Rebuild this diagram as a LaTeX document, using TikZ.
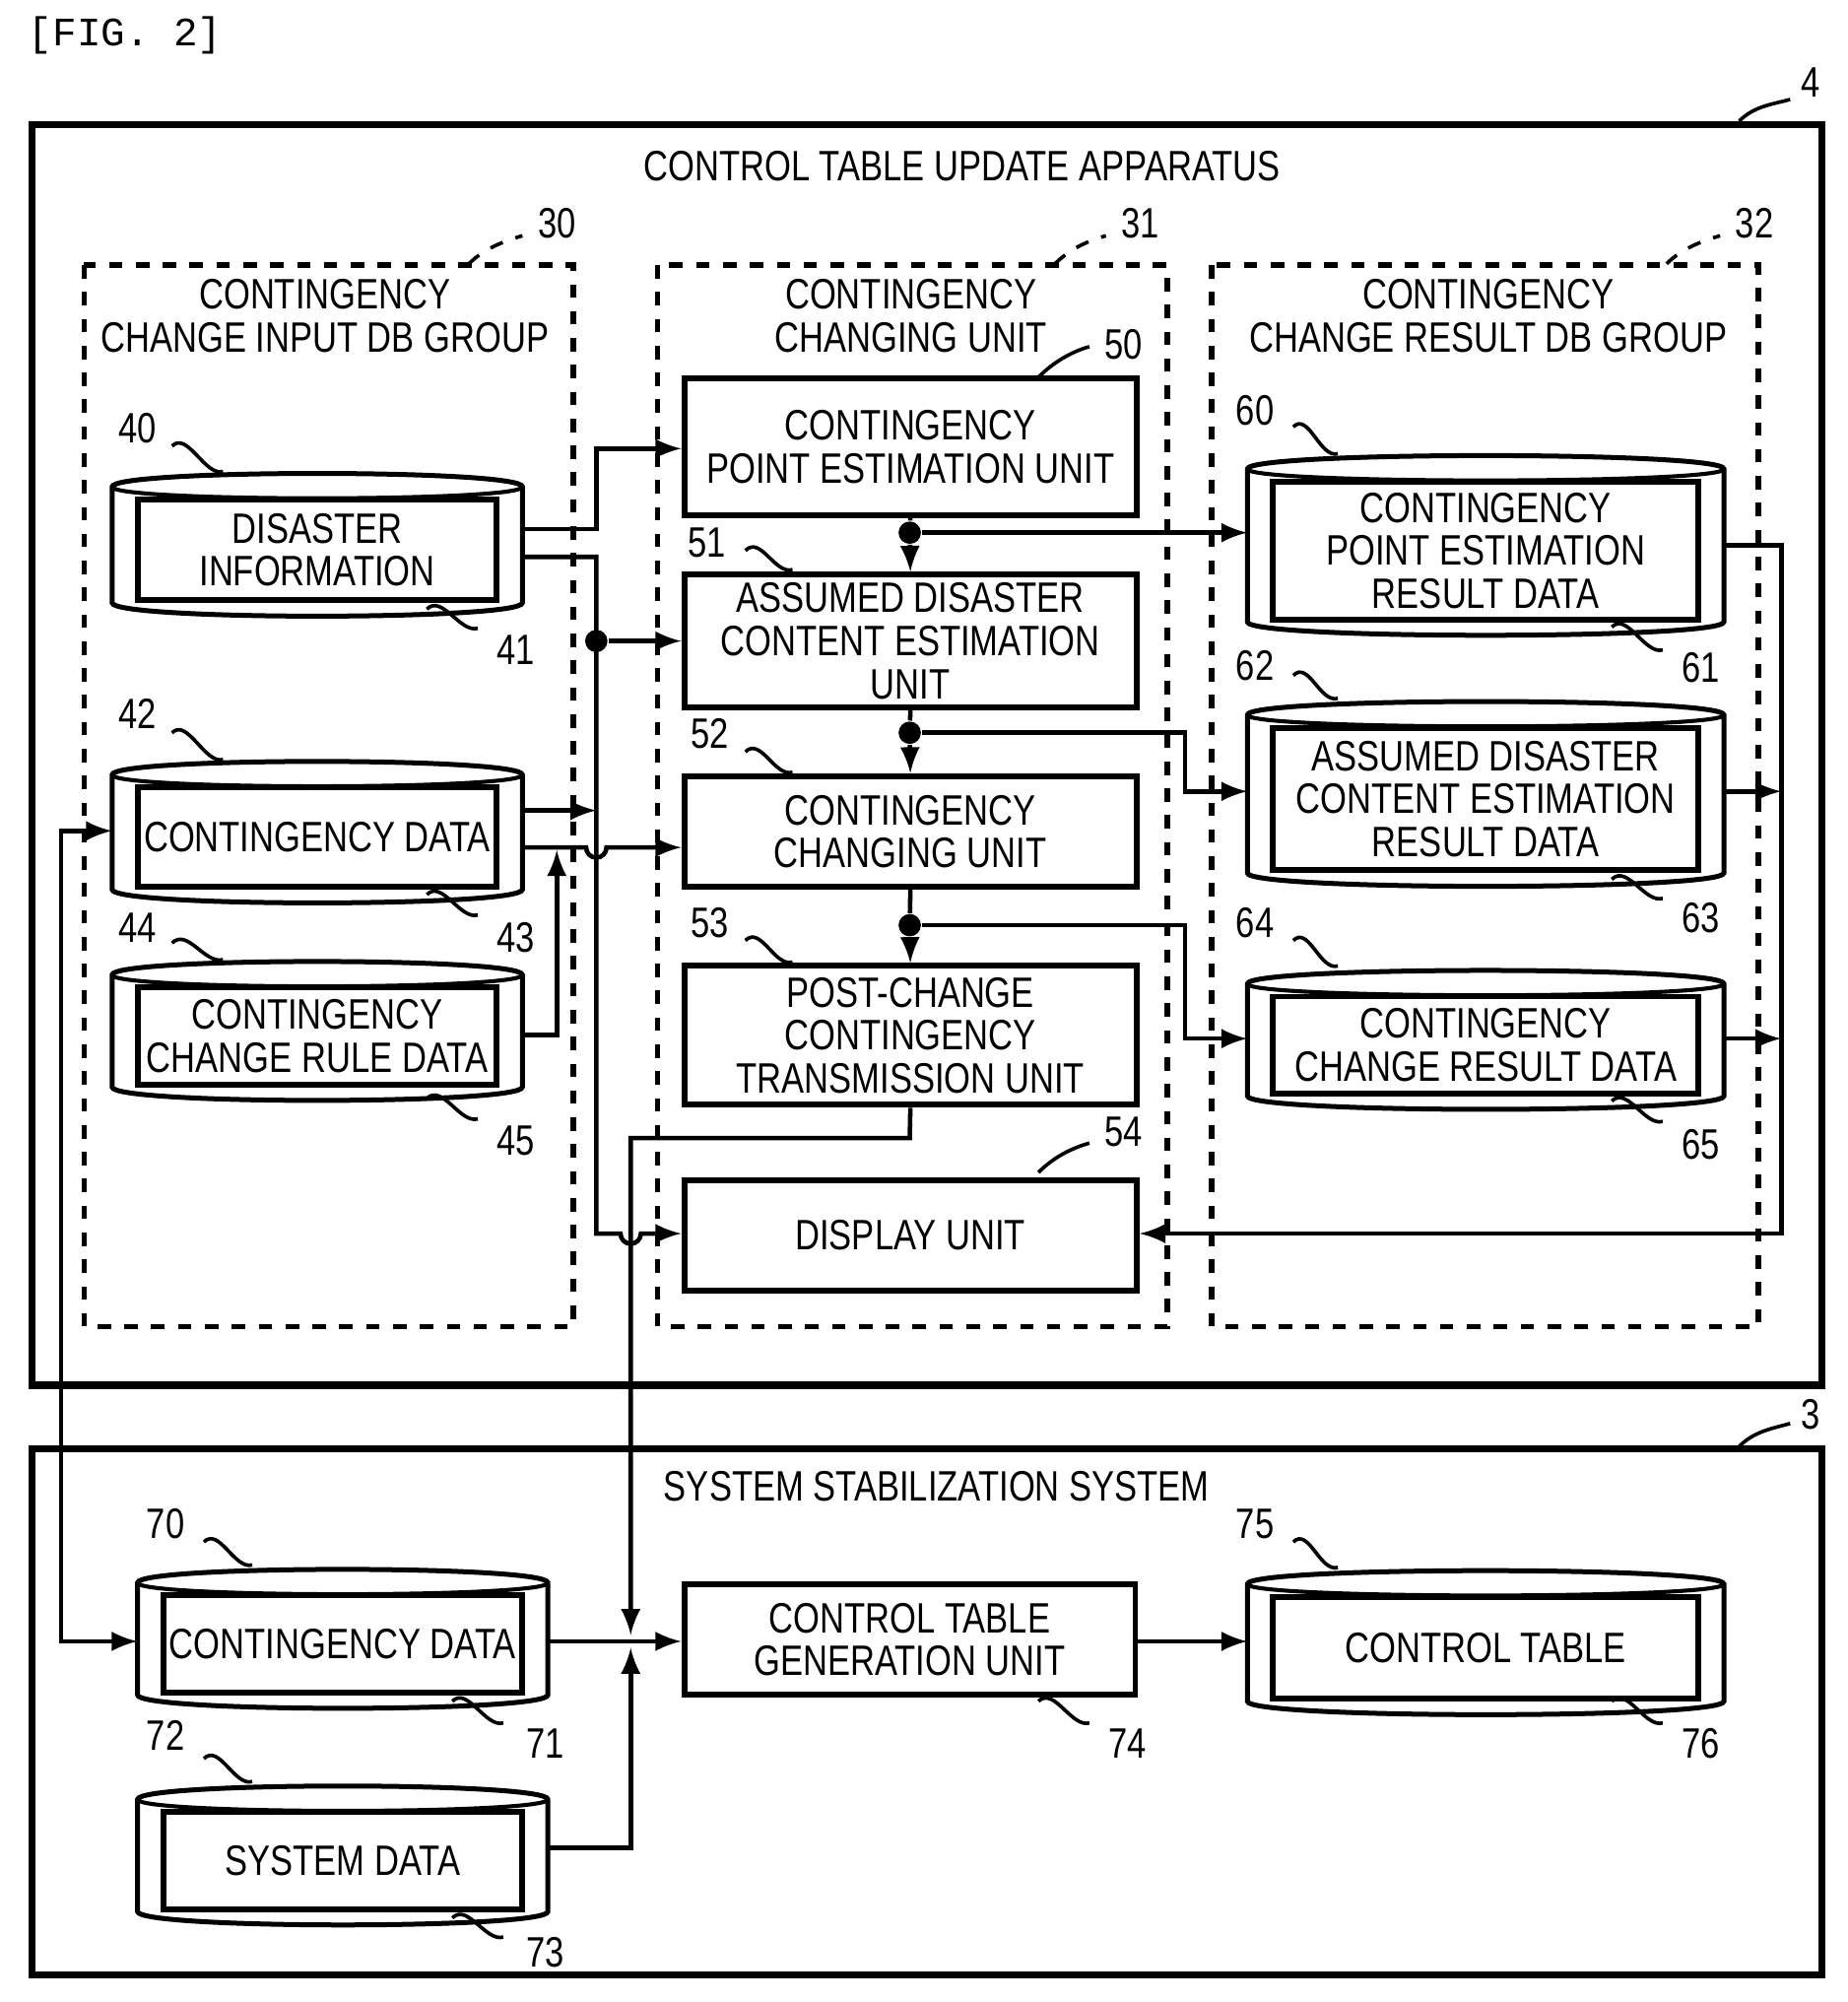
\documentclass[tikz,border=0pt]{standalone}
\usepackage{fontspec}
\setmainfont{Liberation Sans}[FakeStretch=0.8]
\newfontfamily\figmono{Liberation Mono}
\usetikzlibrary{fit}
\tikzset{
  box/.style={draw, line width=1.3pt, inner sep=0pt},
  grp/.style={draw, dashed, line width=1.2pt},
  txt/.style={align=center, font=\fontsize{9.5}{9.6}\selectfont, inner sep=0pt},
  num/.style={font=\fontsize{9.5}{10}\selectfont, inner sep=0pt},
  con/.style={line width=1pt, -latex},
  dot/.style={circle, fill, inner sep=0pt, minimum size=5pt},
}
% labelled squiggle: start, end
\newcommand\squig[3][]{\draw[line width=0.8pt,#1] (#2) .. controls +(12,-12) and +(-14,4) .. (#3);}
% database drawing: name, x0, y0, x1, y1, text
\newcommand\dbase[6]{%
  \draw[line width=1.1pt] (#2,#3+10) .. controls (#2,#3-4) and (#4,#3-4) .. (#4,#3+10)
     -- (#4,#5-10) .. controls (#4,#5+4) and (#2,#5+4) .. (#2,#5-10) -- cycle;
  \draw[line width=0.9pt] (#2,#3+10) .. controls (#2,#3+22) and (#4,#3+22) .. (#4,#3+10);
  \node[box, fill=white, fit={(#2+20,#3+20)(#4-20,#5-12)}] (#1) {};
  \node[txt] at (#1.center) {#6};}
\newcommand\unit[6]{%
  \node[box, fit={(#2,#3)(#4,#5)}] (#1) {};
  \node[txt] at (#1.center) {#6};}
\begin{document}
\begin{tikzpicture}[x=0.1mm, y=-0.1mm]
\useasboundingbox (0,0) rectangle (1450,1571);
\node[anchor=west, font=\figmono\fontsize{9}{10}\selectfont] at (10,28) {[FIG. 2]};

% apparatus 4
\draw[line width=1.6pt] (25,98) rectangle (1430,1087);
\node[txt] at (755,130) {CONTROL TABLE UPDATE APPARATUS};
\squig{1365,95}{1405,78} \node[num] at (1421,65) {4};
\draw[grp] (66,208) rectangle (450,1041);
\draw[grp] (516,208) rectangle (916,1041);
\draw[grp] (951,208) rectangle (1380,1041);
\squig[dashed]{368,207}{410,185} \node[num] at (437,175) {30};
\squig[dashed]{828,207}{868,185} \node[num] at (895,175) {31};
\squig[dashed]{1308,207}{1350,185} \node[num] at (1377,175) {32};
\node[txt] at (255,248) {CONTINGENCY\\CHANGE INPUT DB GROUP};
\node[txt] at (715,248) {CONTINGENCY\\CHANGING UNIT};
\node[txt] at (1168,248) {CONTINGENCY\\CHANGE RESULT DB GROUP};

% input DBs
\dbase{d41}{88}{372}{410}{483}{DISASTER\\INFORMATION}
\dbase{d43}{88}{598}{410}{708}{CONTINGENCY DATA}
\dbase{d45}{88}{755}{410}{863}{CONTINGENCY\\CHANGE RULE DATA}
\squig{135,350}{175,370} \node[num] at (108,336) {40};
\squig{335,478}{375,493} \node[num] at (405,510) {41};
\squig{135,575}{175,596} \node[num] at (108,560) {42};
\squig{335,702}{375,718} \node[num] at (405,736) {43};
\squig{135,740}{175,753} \node[num] at (108,728) {44};
\squig{335,862}{375,878} \node[num] at (405,895) {45};

% units
\unit{u50}{537}{297}{892}{404}{CONTINGENCY\\POINT ESTIMATION UNIT}
\unit{u51}{537}{451}{892}{555}{ASSUMED DISASTER\\CONTENT ESTIMATION\\UNIT}
\unit{u52}{537}{609}{892}{696}{CONTINGENCY\\CHANGING UNIT}
\unit{u53}{537}{758}{892}{867}{POST-CHANGE\\CONTINGENCY\\TRANSMISSION UNIT}
\unit{u54}{537}{926}{892}{1013}{DISPLAY UNIT}
\squig{815,296}{855,272} \node[num] at (882,270) {50};
\squig{585,432}{622,447} \node[num] at (555,426) {51};
\squig{585,590}{622,606} \node[num] at (557,576) {52};
\squig{585,738}{622,755} \node[num] at (557,724) {53};
\squig{815,920}{855,897} \node[num] at (882,888) {54};

% result DBs
\dbase{d61}{979}{358}{1353}{498}{CONTINGENCY\\POINT ESTIMATION\\RESULT DATA}
\dbase{d63}{979}{551}{1353}{695}{ASSUMED DISASTER\\CONTENT ESTIMATION\\RESULT DATA}
\dbase{d65}{979}{762}{1353}{870}{CONTINGENCY\\CHANGE RESULT DATA}
\squig{1015,335}{1050,356} \node[num] at (985,322) {60};
\squig{1265,492}{1305,510} \node[num] at (1335,524) {61};
\squig{1015,530}{1050,548} \node[num] at (985,522) {62};
\squig{1265,690}{1305,705} \node[num] at (1335,720) {63};
\squig{1015,738}{1050,758} \node[num] at (985,724) {64};
\squig{1265,864}{1305,880} \node[num] at (1335,898) {65};

% system 3
\draw[line width=1.6pt] (25,1137) rectangle (1430,1550);
\node[txt] at (735,1166) {SYSTEM STABILIZATION SYSTEM};
\squig{1365,1135}{1405,1117} \node[num] at (1421,1110) {3};
\dbase{d71}{108}{1232}{430}{1340}{CONTINGENCY DATA}
\dbase{d73}{108}{1402}{430}{1510}{SYSTEM DATA}
\unit{u74}{537}{1243}{891}{1330}{CONTROL TABLE\\GENERATION UNIT}
\dbase{d76}{979}{1233}{1353}{1345}{CONTROL TABLE}
\squig{160,1210}{198,1228} \node[num] at (130,1196) {70};
\squig{355,1335}{395,1352} \node[num] at (428,1368) {71};
\squig{160,1380}{198,1398} \node[num] at (130,1362) {72};
\squig{355,1505}{395,1520} \node[num] at (428,1532) {73};
\squig{815,1335}{855,1352} \node[num] at (885,1368) {74};
\squig{1015,1210}{1050,1230} \node[num] at (985,1196) {75};
\squig{1265,1335}{1305,1352} \node[num] at (1335,1368) {76};

% connectors, input side
\draw[con] (410,415) -- (468,415) -- (468,352) -- (u50.west |- 0,352);
\draw[con] (410,437) -- (468,437) -- (468,968) -- (487,968)
  arc[start angle=180, end angle=0, radius=8] -- (u54.west |- 0,968);
\node[dot] (j1) at (468,503) {};
\draw[con] (j1) -- (u51.west |- j1);
\draw[con] (410,636) -- (468,636);
\draw[con] (410,665) -- (460,665) arc[start angle=180, end angle=0, radius=8] -- (u52.west |- 0,665);
\draw[con] (410,812) -- (437,812) -- (437,667);
% chain through units
\node[dot] (j2) at (714,418) {};
\node[dot] (j3) at (714,575) {};
\node[dot] (j4) at (714,726) {};
\draw[line width=1pt] (u50.south) -- (j2);
\draw[con] (j2) -- (u51.north);
\draw[line width=1pt] (u51.south) -- (j3);
\draw[con] (j3) -- (u52.north);
\draw[line width=1pt] (u52.south) -- (j4);
\draw[con] (j4) -- (u53.north);
\draw[con] (j2) -- (979,418);
\draw[con] (j3) -- (930,575) -- (930,621) -- (979,621);
\draw[con] (j4) -- (930,726) -- (930,815) -- (979,815);
% result side
\draw[con] (1353,428) -- (1398,428) -- (1398,968) -- (u54.east |- 0,968);
\draw[con] (1353,621) -- (1398,621);
\draw[con] (1353,815) -- (1398,815);
% to system
\draw[con] (u53.south) -- (714,893) -- (495,893) -- (495,1283);
\draw[con] (430,1450) -- (495,1450) -- (495,1293);
\draw[con] (430,1288) -- (u74.west |- 0,1288);
\draw[con] (u74.east |- 0,1288) -- (979,1288);
\draw[line width=1pt, latex-latex] (88,652) -- (48,652) -- (48,1288) -- (108,1288);
\end{tikzpicture}
\end{document}
